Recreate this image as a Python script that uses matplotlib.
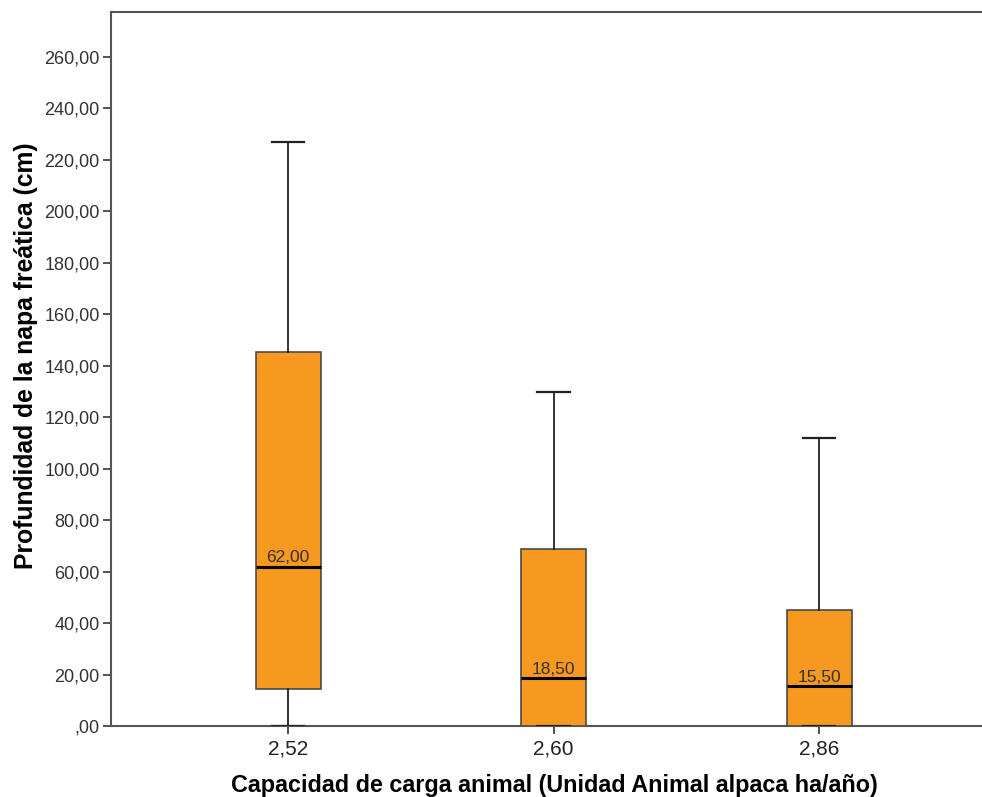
# boxplot: profundidad de la napa freática por capacidad de carga

import matplotlib.pyplot as plt
from matplotlib.ticker import FuncFormatter

# data
categories = ["2,52", "2,60", "2,86"]
whisker_low = [0.0, 0.0, 0.0]
q1 = [14.5, 0.0, 0.0]
medians = [62.0, 18.5, 15.5]
q3 = [145.5, 69.0, 45.0]
whisker_high = [227.0, 130.0, 112.0]

plt.rcParams["font.family"] = ["Liberation Sans", "DejaVu Sans"]

fig = plt.figure(figsize=(9.82, 7.97), dpi=100)
ax = fig.add_axes([0.113, 0.089, 0.887, 0.896])

stats = []
for i, name in enumerate(categories):
    stats.append({
        "label": name,
        "whislo": whisker_low[i],
        "q1": q1[i],
        "med": medians[i],
        "q3": q3[i],
        "whishi": whisker_high[i],
        "fliers": [],
    })

positions = [1, 2, 3]
ax.bxp(stats, positions=positions, widths=0.245, patch_artist=True,
       boxprops=dict(facecolor="#F7991F", edgecolor="#4a4a4a", linewidth=1.2),
       medianprops=dict(color="black", linewidth=2.2),
       whiskerprops=dict(color="#222222", linewidth=1.3),
       capprops=dict(color="#222222", linewidth=1.6),
       zorder=3)

# median labels
for pos, m in zip(positions, medians):
    ax.text(pos, m + 0.6, f"{m:.2f}".replace(".", ","), ha="center", va="bottom",
            fontsize=12.5, color="#333333", zorder=4)

ax.set_xlim(0.333, 3.613)
ax.set_ylim(0, 277.5)
ax.set_yticks(range(0, 261, 20))


def fmt(v, _):
    s = f"{v:.2f}".replace(".", ",")
    return s[1:] if s.startswith("0,") else s


ax.yaxis.set_major_formatter(FuncFormatter(fmt))
ax.tick_params(axis="y", labelsize=13, length=6, width=1.3, color="#444444",
               labelcolor="#333333", pad=2)
ax.tick_params(axis="x", labelsize=15, length=6, width=1.3, color="#444444",
               labelcolor="#222222", pad=4)

for side in ["left", "bottom", "top"]:
    ax.spines[side].set_color("#555555")
    ax.spines[side].set_linewidth(1.5)
ax.spines["right"].set_visible(False)

ax.set_xlabel("Capacidad de carga animal (Unidad Animal alpaca ha/año)",
              fontsize=16.8, fontweight="bold")
ax.set_ylabel("Profundidad de la napa freática (cm)",
              fontsize=17.8, fontweight="bold")
ax.xaxis.set_label_coords(0.509, -0.067)
ax.yaxis.set_label_coords(-0.084, 0.518)

fig.savefig("out.png", dpi=100)
